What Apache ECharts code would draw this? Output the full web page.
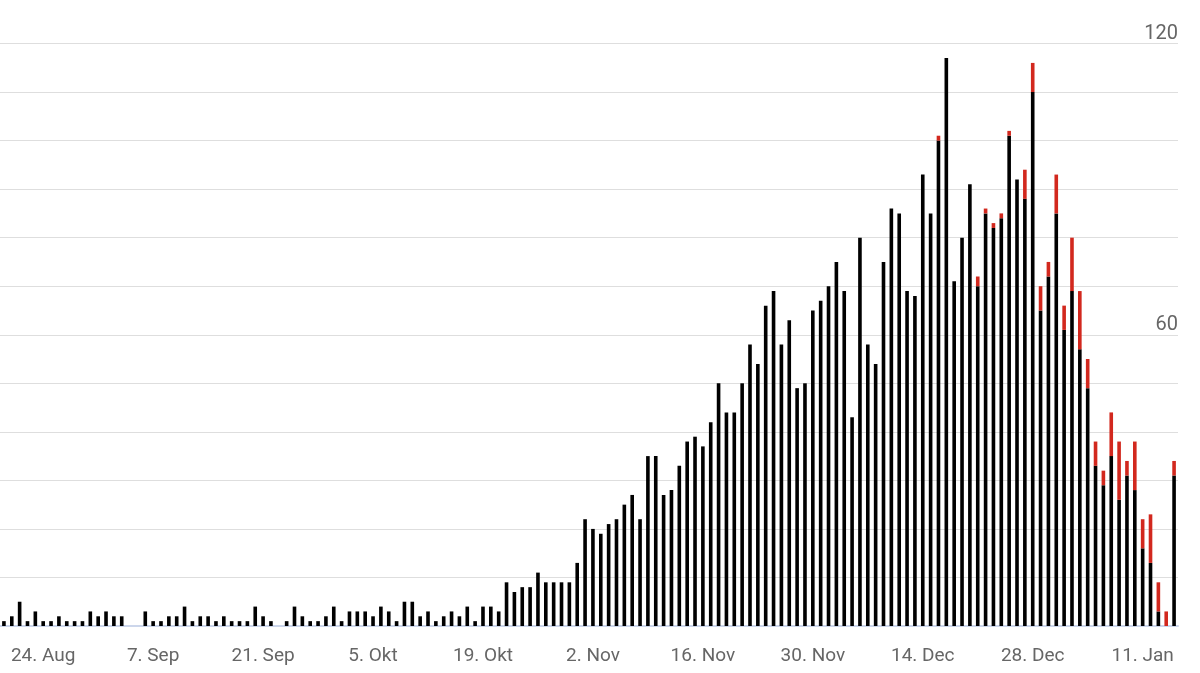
<!DOCTYPE html>
<html>
<head>
<meta charset="utf-8">
<script src="https://cdn.jsdelivr.net/npm/echarts@6/dist/echarts.min.js"></script>
<style>
  html, body { margin: 0; padding: 0; background: #ffffff; }
  #chart { width: 1200px; height: 673px; }
</style>
</head>
<body>
<div id="chart"></div>
<script>
// Daily values, 19 Aug – 15 Jan (black = main series, red = stacked on top)
const startDate = [2020, 7, 19]; // 19 Aug
const monthNames = ['Jan','Feb','Mar','Apr','Mai','Jun','Jul','Aug','Sep','Okt','Nov','Dec'];

const blackAug = [1,2,5,1,3,1,1,2,1,1,1,3,2];
const blackSep = [3,2,2,0,0,3,1,1,2,2,4,1,2,2,1,2,1,1,1,4,2,1,0,1,4,2,1,1,2,4];
const blackOkt = [1,3,3,3,2,4,3,1,5,5,2,3,1,2,3,2,4,1,4,4,3,9,7,8,8,11,9,9,9,9,13];
const blackNov = [22,20,19,21,22,25,27,22,35,35,27,28,33,38,39,37,42,50,44,44,50,58,54,66,69,58,63,49,50,65];
const blackDec = [67,70,75,69,43,80,58,54,75,86,85,69,68,93,85,100,117,71,80,91,70,85,82,84,101,92,88,110,65,72,85];
const blackJan = [61,69,57,49,33,29,35,26,31,28,16,13,3,0,31];

const redAug = [0,0,0,0,0,0,0,0,0,0,0,0,0];
const redSep = [0,0,0,0,0,0,0,0,0,0,0,0,0,0,0,0,0,0,0,0,0,0,0,0,0,0,0,0,0,0];
const redOkt = [0,0,0,0,0,0,0,0,0,0,0,0,0,0,0,0,0,0,0,0,0,0,0,0,0,0,0,0,0,0,0];
const redNov = [0,0,0,0,0,0,0,0,0,0,0,0,0,0,0,0,0,0,0,0,0,0,0,0,0,0,0,0,0,0];
const redDec = [0,0,0,0,0,0,0,0,0,0,0,0,0,0,0,1,0,0,0,0,2,1,1,1,1,0,6,6,5,3,8];
const redJan = [5,11,12,6,5,3,9,12,3,10,6,10,6,3,3];

const xTickLabels = ['24. Aug','7. Sep','21. Sep','5. Okt','19. Okt','2. Nov','16. Nov','30. Nov','14. Dec','28. Dec','11. Jan'];
const yTickLabels = [60, 120];

const blackValues = [].concat(blackAug, blackSep, blackOkt, blackNov, blackDec, blackJan);
const redValues = [].concat(redAug, redSep, redOkt, redNov, redDec, redJan);

// Category labels, one per day
const categories = [];
{
  const d = new Date(startDate[0], startDate[1], startDate[2]);
  for (let i = 0; i < blackValues.length; i++) {
    categories.push(d.getDate() + '. ' + monthNames[d.getMonth()]);
    d.setDate(d.getDate() + 1);
  }
}
const shown = new Set(xTickLabels);

const chart = echarts.init(document.getElementById('chart'), null, { renderer: 'canvas' });
chart.setOption({
  animation: false,
  grid: { left: -2, right: 22, top: 43.5, bottom: 47, containLabel: false },
  xAxis: {
    type: 'category',
    data: categories,
    boundaryGap: true,
    axisLine: { lineStyle: { color: '#ccd6eb', width: 2 } },
    axisTick: {
      alignWithLabel: true,
      length: 17,
      interval: (idx, val) => shown.has(val),
      lineStyle: { color: '#ccd6eb', width: 1.5 }
    },
    axisLabel: {
      interval: (idx, val) => shown.has(val),
      color: '#666666',
      fontFamily: 'Roboto',
      fontSize: 19,
      margin: 21
    },
    splitLine: { show: false }
  },
  yAxis: {
    type: 'value',
    position: 'right',
    min: 0,
    max: 120,
    interval: 10,
    axisLine: { show: false },
    axisTick: { show: false },
    splitLine: { lineStyle: { color: '#dedede', width: 1.2 } },
    axisLabel: {
      inside: true,
      margin: 0,
      color: '#666666',
      fontFamily: 'Roboto',
      fontSize: 20,
      verticalAlign: 'bottom',
      padding: [0, 0, 0, 0],
      formatter: v => yTickLabels.includes(v) ? String(v) : ''
    }
  },
  series: [
    {
      name: 'black', type: 'bar', stack: 'total', data: blackValues,
      barWidth: '46%',
      itemStyle: { color: '#000000' }
    },
    {
      name: 'red', type: 'bar', stack: 'total', data: redValues,
      barWidth: '46%',
      itemStyle: { color: '#d2281e' }
    }
  ]
});
</script>
</body>
</html>
